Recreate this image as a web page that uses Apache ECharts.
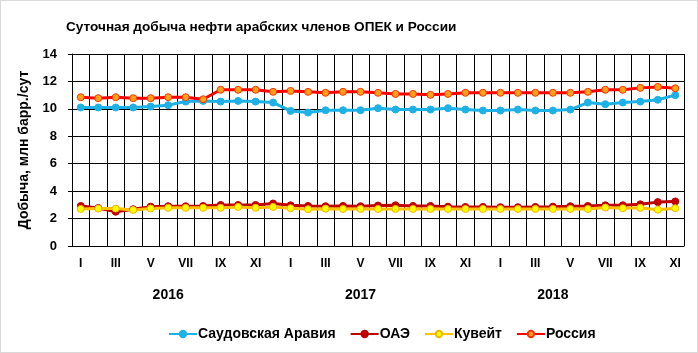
<!DOCTYPE html>
<html>
<head>
    <meta charset="utf-8">
    <title>Суточная добыча нефти</title>
    <script src="https://cdn.jsdelivr.net/npm/echarts@6/dist/echarts.min.js"></script>
</head>
<body style="margin: 0">
    <div id="container" style="width: 696px; height: 351px; border: 1px solid #d9d9d9"></div>
    <script type="text/javascript">
        // месяцы янв 2016 - ноя 2018
        var months = ['I','II','III','IV','V','VI','VII','VIII','IX','X','XI','XII',
                      'I','II','III','IV','V','VI','VII','VIII','IX','X','XI','XII',
                      'I','II','III','IV','V','VI','VII','VIII','IX','X','XI'];
        // подписи годов под осью
        var years = ['','','','','','2016','','','','','','',
                     '','','','','2017','','','','','','','',
                     '','','','2018','','','','','','',''];

        var saudi = [10.1, 10.1, 10.1, 10.1, 10.17, 10.27, 10.53, 10.58, 10.53, 10.58, 10.53, 10.46,
                     9.85, 9.73, 9.9, 9.9, 9.9, 10.05, 9.95, 9.95, 9.95, 10.05, 9.95, 9.88,
                     9.88, 9.95, 9.88, 9.88, 9.95, 10.46, 10.34, 10.46, 10.53, 10.66, 11.0];
        var uae = [2.92, 2.77, 2.5, 2.68, 2.87, 2.9, 2.9, 2.92, 2.99, 2.99, 2.99, 3.1,
                   2.97, 2.92, 2.9, 2.92, 2.9, 2.95, 2.97, 2.92, 2.92, 2.87, 2.85, 2.85,
                   2.83, 2.83, 2.85, 2.87, 2.9, 2.92, 2.97, 2.97, 3.04, 3.2, 3.25];
        var kuwait = [2.7, 2.73, 2.73, 2.63, 2.73, 2.78, 2.78, 2.78, 2.78, 2.85, 2.78, 2.85,
                      2.75, 2.68, 2.72, 2.7, 2.7, 2.7, 2.7, 2.7, 2.7, 2.7, 2.7, 2.7,
                      2.7, 2.7, 2.7, 2.7, 2.7, 2.7, 2.8, 2.75, 2.78, 2.65, 2.75];
        var russia = [10.85, 10.78, 10.85, 10.78, 10.78, 10.85, 10.85, 10.7, 11.39, 11.39, 11.39, 11.24,
                      11.31, 11.24, 11.17, 11.24, 11.24, 11.17, 11.09, 11.09, 11.02, 11.09, 11.17, 11.17,
                      11.17, 11.17, 11.17, 11.17, 11.17, 11.24, 11.39, 11.39, 11.53, 11.6, 11.5];

        var font = 'Liberation Sans';
        var myChart = echarts.init(document.getElementById('container'));

        function line(name, data, lineColor, dotColor, dotBorder) {
            return {
                name: name,
                type: 'line',
                data: data,
                symbol: 'circle',
                symbolSize: 7,
                lineStyle: { color: lineColor, width: 3 },
                itemStyle: { color: dotColor, borderColor: dotBorder, borderWidth: 1 }
            };
        }

        var option = {
            animation: false,
            backgroundColor: '#fff',
            textStyle: { fontFamily: font },
            title: {
                text: 'Суточная добыча нефти арабских членов ОПЕК и России',
                left: 60,
                top: 14,
                textStyle: { fontFamily: font, fontSize: 13.6, fontWeight: 'bold', color: '#000' }
            },
            legend: {
                bottom: 6,
                left: 162,
                itemWidth: 28,
                itemHeight: 8,
                itemGap: 14,
                textStyle: { fontFamily: font, fontSize: 14, fontWeight: 'bold', color: '#000', padding: [0, 0, 0, -4] },
                data: ['Саудовская Аравия', 'ОАЭ', 'Кувейт', 'Россия']
            },
            grid: { left: 71, right: 13, top: 53, bottom: 106 },
            xAxis: [{
                type: 'category',
                data: months,
                boundaryGap: true,
                axisLine: { lineStyle: { color: '#000', width: 1 } },
                axisTick: { show: false },
                splitLine: { show: true, interval: 0, lineStyle: { color: '#000', width: 1 } },
                axisLabel: { interval: 1, margin: 12, fontSize: 12, fontWeight: 'bold', color: '#000' }
            }, {
                type: 'category',
                data: years,
                position: 'bottom',
                offset: 38,
                boundaryGap: true,
                axisLine: { show: false },
                axisTick: { show: false },
                splitLine: { show: false },
                axisLabel: { interval: 0, margin: 4, fontSize: 14, fontWeight: 'bold', color: '#000' }
            }],
            yAxis: {
                type: 'value',
                min: 0,
                max: 14,
                interval: 2,
                name: 'Добыча, млн барр./сут',
                nameLocation: 'middle',
                nameGap: 37,
                nameTextStyle: { fontFamily: font, fontSize: 14, fontWeight: 'bold', color: '#000' },
                axisLine: { show: true, lineStyle: { color: '#000' } },
                axisTick: { show: true, length: 4, lineStyle: { color: '#000' } },
                splitLine: { lineStyle: { color: '#000', width: 1 } },
                axisLabel: { margin: 15, fontSize: 13, fontWeight: 'bold', color: '#000' }
            },
            series: [
                line('Саудовская Аравия', saudi, '#1fb1e6', '#1fb1e6', '#1fb1e6'),
                line('ОАЭ', uae, '#c00000', '#c00000', '#c00000'),
                line('Кувейт', kuwait, '#ffc000', '#ffff00', '#f0b800'),
                line('Россия', russia, '#ff0000', '#ffa21a', '#ff3300')
            ]
        };
        myChart.setOption(option);
    </script>
</body>
</html>
